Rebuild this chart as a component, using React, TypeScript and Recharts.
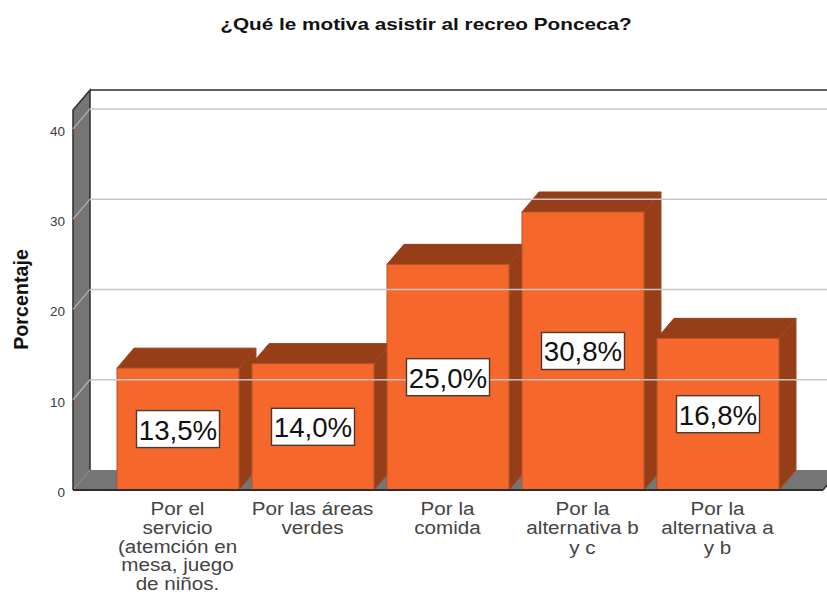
import React from "react";
import { BarChart, Bar, XAxis, YAxis, ReferenceArea, ReferenceLine, LabelList } from "recharts";

const titleText = "¿Qué le motiva asistir al recreo Ponceca?";
const yTitle = "Porcentaje";
const categories = [
  "Por el servicio (atemción en mesa, juego de niños.",
  "Por las áreas verdes",
  "Por la comida",
  "Por la alternativa b y c",
  "Por la alternativa a y b",
];
const categoryLines = [
  ["Por el", "servicio", "(atemción en", "mesa, juego", "de niños."],
  ["Por las áreas", "verdes"],
  ["Por la", "comida"],
  ["Por la", "alternativa b", "y c"],
  ["Por la", "alternativa a", "y b"],
];
const values = [13.5, 14.0, 25.0, 30.8, 16.8];
const valueLabels = ["13,5%", "14,0%", "25,0%", "30,8%", "16,8%"];
const yTicks = [0, 10, 20, 30, 40];
const yMax = 42.1;

const data = categories.map((name, i) => ({ name, value: values[i], label: valueLabels[i] }));

const DX = 17;
const DY = 20;
const PAD_L = 37;
const PAD_R = 38;
const ORANGE = "#f5672a";
const BROWN = "#953e18";
const WALL = "#757575";
const EDGE = "#2e2e2e";
const FONT = "Liberation Sans, Arial, sans-serif";

const Bar3D = (p: any) => {
  const { x, y, width: w, height: h } = p;
  const stroke = "#a04a22";
  return (
    <g>
      <polygon points={`${x},${y} ${x + DX},${y - DY} ${x + w + DX},${y - DY} ${x + w},${y}`} fill={BROWN} stroke={BROWN} strokeWidth={1} />
      <polygon points={`${x + w},${y} ${x + w + DX},${y - DY} ${x + w + DX},${y + h - DY} ${x + w},${y + h}`} fill={BROWN} stroke={stroke} strokeWidth={1} />
      <rect x={x} y={y} width={w} height={h} fill={ORANGE} stroke="#b5552a" strokeWidth={1} />
    </g>
  );
};

const Walls = (p: any) => {
  const x = p.x - PAD_L;
  const w = p.width + PAD_L + PAD_R;
  const y = p.y;
  const b = p.y + p.height;
  return (
    <g>
      <polygon points={`${x},${y} ${x + DX},${y - DY} ${x + DX},${b - DY} ${x},${b}`} fill={WALL} />
      <polygon points={`${x},${b} ${x + DX},${b - DY} ${x + w + DX},${b - DY} ${x + w},${b}`} fill={WALL} />
      <path d={`M${x},${b} L${x},${y} L${x + DX},${y - DY} L${x + DX},${b - DY}`} fill="none" stroke={EDGE} strokeWidth={1.5} />
      <line x1={x + DX} y1={y - DY} x2={x + w + DX} y2={y - DY} stroke={EDGE} strokeWidth={1.5} />
      <line x1={x + w} y1={b} x2={x + w + DX} y2={b - DY} stroke={EDGE} strokeWidth={1.5} />
    </g>
  );
};

const GridLine3D = (p: any) => {
  const { x1, y1, x2, y2 } = p;
  return (
    <g>
      <line x1={x1} y1={y1} x2={x1 + DX} y2={y1 - DY} stroke="#b4b4b4" strokeWidth={1.2} />
      <line x1={x1 + DX} y1={y2 - DY} x2={x2 + DX} y2={y2 - DY} stroke="#c6c6c6" strokeWidth={1.4} />
    </g>
  );
};

const XTick = (p: any) => {
  const { x, y, index } = p;
  const lines = categoryLines[index] || [];
  const step = lines.length > 3 ? 18.8 : 19.5;
  return (
    <text transform={`translate(${x},0) scale(1.11,1)`} textAnchor="middle" fontFamily={FONT} fontSize={18.6} fill="#444444">
      {lines.map((l: string, i: number) => (
        <tspan key={i} x={0} y={y + 17 + i * step}>{l}</tspan>
      ))}
    </text>
  );
};

const YTick = (p: any) => (
  <text x={65} y={p.y + 7} textAnchor="end" fontFamily={FONT} fontSize={13.5} fill="#3a3a3a">
    {p.payload.value}
  </text>
);

const ValueBox = (p: any) => {
  const { x, y, width: w, height: h, value } = p;
  const cx = x + w / 2;
  const cy = y + h / 2;
  return (
    <g>
      <rect x={cx - 41.5} y={cy - 18.5} width={83} height={37} fill="#ffffff" stroke="#4a3a30" strokeWidth={1.4} />
      <text x={cx} y={cy + 10.5} textAnchor="middle" fontFamily={FONT} fontSize={27.7} fill="#111111">
        {value}
      </text>
    </g>
  );
};

const YTitle = () => (
  <text
    transform="translate(28,299.5) rotate(-90)"
    textAnchor="middle"
    fontFamily={FONT}
    fontWeight="bold"
    fontSize={19.7}
    fill="#111111"
  >
    {yTitle}
  </text>
);

export default function App() {
  return (
    <div style={{ position: "absolute", left: 0, top: 0, width: 827, height: 594, overflow: "hidden", background: "#fff" }}>
      <div
        style={{
          position: "absolute",
          left: 0,
          width: 852,
          top: 14,
          textAlign: "center",
          fontFamily: FONT,
          fontWeight: "bold",
          fontSize: 17,
          lineHeight: "21px",
          color: "#111",
          transform: "scaleX(1.22)",
          transformOrigin: "426px 0",
        }}
      >
        {titleText}
      </div>
      <BarChart
        width={827}
        height={594}
        data={data}
        margin={{ top: 110, right: 4, bottom: 0, left: 0 }}
        barSize={122}
        style={{ overflow: "visible" }}
      >
        <XAxis
          dataKey="name"
          height={104}
          interval={0}
          padding={{ left: PAD_L, right: PAD_R }}
          tickLine={false}
          axisLine={{ stroke: EDGE, strokeWidth: 2 }}
          tick={<XTick />}
        />
        <YAxis
          width={73}
          domain={[0, yMax]}
          ticks={yTicks}
          interval={0}
          tickLine={false}
          axisLine={false}
          tick={<YTick />}
          allowDataOverflow
          label={<YTitle />}
        />
        <ReferenceArea y1={0} y2={yMax} ifOverflow="visible" shape={<Walls />} />
        {yTicks.slice(1).map((t) => (
          <ReferenceLine key={t} y={t} ifOverflow="visible" shape={<GridLine3D />} />
        ))}
        <Bar dataKey="value" isAnimationActive={false} shape={<Bar3D />}>
          <LabelList dataKey="label" content={<ValueBox />} />
        </Bar>
      </BarChart>
    </div>
  );
}
